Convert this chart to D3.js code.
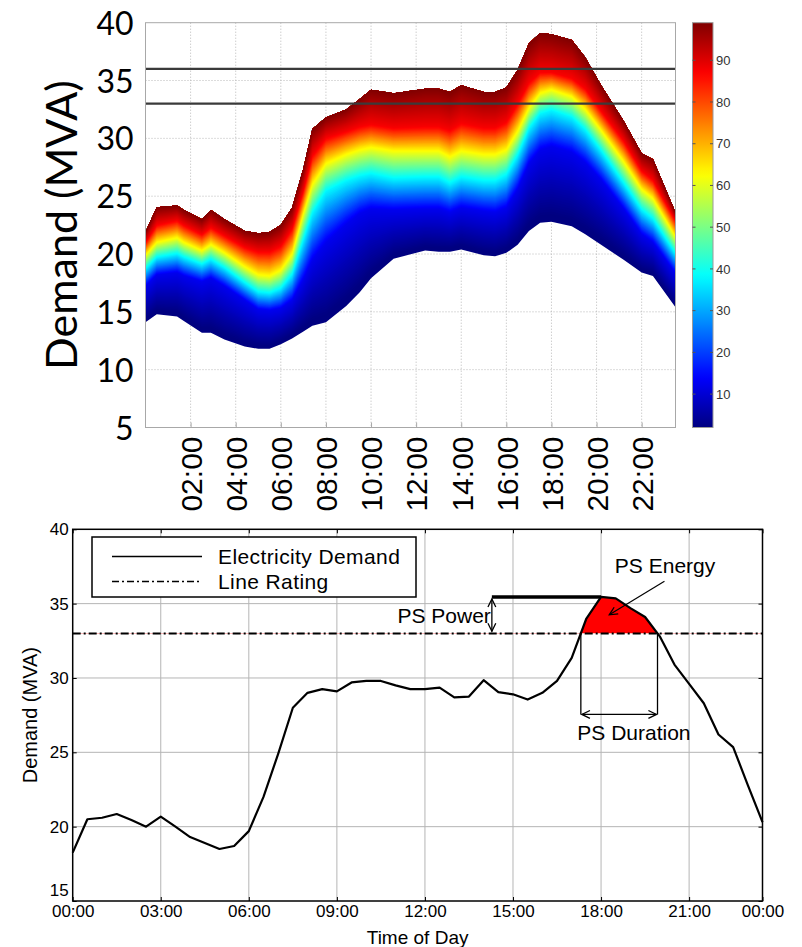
<!DOCTYPE html>
<html><head><meta charset="utf-8">
<script src="https://cdn.jsdelivr.net/npm/d3@7"></script>
<style>
body{margin:0;background:#fff;}
svg{display:block;}
</style></head><body>
<svg id="chart" width="802" height="947"></svg>
<script>
// ---------------- TOP CHART DATA (demand percentiles) ----------------
const fanHours = [0, 0.5, 1.4, 1.7, 2.5, 2.9, 3.5, 4.4, 5.0, 5.5, 6.0, 6.5, 7.0, 7.4, 8.0, 8.9, 9.5, 10.0, 11.0, 12.4, 13.0, 13.5, 14.0, 15.0, 15.5, 16.0, 16.5, 17.0, 17.5, 18.0, 18.9, 19.5, 20.2, 21.2, 22.0, 22.5, 23.5];
const p1  = [14.1, 14.8, 14.6, 14.2, 13.2, 13.2, 12.6, 12.0, 11.8, 11.8, 12.2, 12.7, 13.3, 13.8, 14.1, 15.5, 16.7, 17.9, 19.6, 20.3, 20.2, 20.2, 20.4, 19.9, 19.8, 20.1, 20.8, 22.0, 22.7, 22.8, 22.4, 21.7, 20.8, 19.5, 18.4, 18.1, 15.4];
const p12 = [17.2, 18.2, 18.4, 18.1, 17.6, 17.9, 17.2, 16.0, 15.2, 15.1, 15.3, 16.0, 17.8, 19.5, 21.0, 22.6, 23.5, 23.9, 23.8, 23.9, 23.9, 23.6, 24.0, 23.7, 23.6, 24.0, 25.6, 27.8, 29.0, 29.3, 28.8, 27.9, 26.4, 23.9, 21.7, 21.0, 18.3];
const p37 = [18.7, 19.7, 20.0, 19.7, 19.1, 19.5, 18.8, 17.5, 16.7, 16.6, 17.0, 18.2, 21.2, 23.5, 25.4, 26.3, 26.7, 26.9, 26.5, 26.6, 26.6, 26.1, 26.6, 26.3, 26.3, 26.8, 28.5, 30.8, 32.1, 32.4, 31.8, 30.7, 28.9, 26.1, 23.8, 23.0, 20.0];
const p62 = [19.9, 21.0, 21.4, 21.0, 20.3, 20.8, 20.1, 18.9, 18.2, 18.1, 18.6, 20.0, 23.5, 26.0, 27.8, 28.6, 29.0, 29.2, 28.9, 28.9, 28.9, 28.4, 28.9, 28.6, 28.6, 29.0, 30.6, 32.6, 33.9, 34.2, 33.6, 32.5, 30.7, 28.0, 25.6, 24.8, 21.5];
const p87 = [21.0, 22.5, 22.9, 22.5, 21.7, 22.3, 21.6, 20.6, 20.2, 20.2, 20.7, 22.2, 25.5, 28.5, 30.0, 30.6, 31.0, 31.2, 30.9, 31.0, 31.0, 30.7, 31.3, 30.9, 30.9, 31.4, 33.0, 34.8, 35.7, 35.7, 35.2, 34.3, 32.4, 29.8, 27.2, 26.4, 22.9];
const p99 = [21.9, 24.05, 24.2, 23.8, 23.0, 23.8, 23.0, 22.0, 21.8, 21.9, 22.5, 24.0, 27.4, 30.8, 31.8, 32.5, 33.4, 34.2, 33.9, 34.3, 34.3, 34.0, 34.6, 34.0, 34.0, 34.4, 35.9, 38.2, 39.1, 39.0, 38.5, 37.0, 34.6, 31.5, 28.7, 28.2, 23.6];
const percentileLevels = [1, 12.5, 37.5, 62.5, 87.5, 99];
const ratingLevels = [36, 33];
const topYTicks = [5, 10, 15, 20, 25, 30, 35, 40];
const topXTicks = [2, 4, 6, 8, 10, 12, 14, 16, 18, 20, 22];
const topXTickLabels = ["02:00", "04:00", "06:00", "08:00", "10:00", "12:00", "14:00", "16:00", "18:00", "20:00", "22:00"];
const colorbarDomain = [2, 99];
const colorbarTicks = [10, 20, 30, 40, 50, 60, 70, 80, 90];

// ---------------- BOTTOM CHART DATA (one day) ----------------
const demandHours = [0, 0.5, 1, 1.5, 2, 2.5, 3, 3.5, 4, 4.5, 5, 5.5, 6, 6.5, 7, 7.5, 8, 8.5, 9, 9.5, 10, 10.5, 11, 11.5, 12, 12.5, 13, 13.5, 14, 14.5, 15, 15.5, 16, 16.5, 17, 17.5, 18, 18.5, 19, 19.5, 20, 20.5, 21, 21.5, 22, 22.5, 23, 23.5];
const demand = [18.25, 20.5, 20.6, 20.85, 20.45, 20.0, 20.67, 20.0, 19.3, 18.9, 18.5, 18.7,
                19.7, 22.0, 24.9, 28.0, 29.0, 29.25, 29.1, 29.7, 29.8, 29.8, 29.5, 29.25,
                29.25, 29.35, 28.7, 28.75, 29.85, 29.05, 28.9, 28.55, 29.0, 29.8, 31.35, 34.0,
                35.45, 35.35, 34.7, 34.1, 32.8, 30.9, 29.6, 28.3, 26.2, 25.35, 22.8, 20.3];
const lineRating = 33;
const psPowerStartHour = 14.28;
const psDurationLevel = 27.55;
const bottomYTicks = [15, 20, 25, 30, 35, 40];
const bottomXTicks = [0, 3, 6, 9, 12, 15, 18, 21, 23.5];
const bottomXTickLabels = ["00:00", "03:00", "06:00", "09:00", "12:00", "15:00", "18:00", "21:00", "00:00"];
const legendLabels = ["Electricity Demand", "Line Rating"];

// ---------------- helpers ----------------
const svg = d3.select("#chart");
const jet = t => {
  const c = v => Math.max(0, Math.min(1, v));
  return d3.rgb(255 * c(1.5 - Math.abs(4 * t - 3)), 255 * c(1.5 - Math.abs(4 * t - 2)), 255 * c(1.5 - Math.abs(4 * t - 1))).toString();
};
const cNorm = d3.scaleLinear().domain(colorbarDomain).range([0, 1]).clamp(true);
const fontArial = "'Liberation Sans', Arial, sans-serif";
const fontCal = "Lato, 'Open Sans', sans-serif";

// ================= TOP CHART =================
const xT = d3.scaleLinear().domain([0, 23.5]).range([145.5, 675.5]);
const yT = d3.scaleLinear().domain([5, 40]).range([427.5, 22.7]);
const gT = svg.append("g");

// dotted grid
gT.append("g").selectAll("line").data(topXTicks).join("line")
  .attr("x1", d => xT(d)).attr("x2", d => xT(d)).attr("y1", yT(40)).attr("y2", yT(5))
  .attr("stroke", "#b8b8b8").attr("stroke-width", 1).attr("stroke-dasharray", "1,2");
gT.append("g").selectAll("line").data(topYTicks.slice(1, -1)).join("line")
  .attr("x1", xT(0)).attr("x2", xT(23.5)).attr("y1", d => yT(d)).attr("y2", d => yT(d))
  .attr("stroke", "#b8b8b8").attr("stroke-width", 1).attr("stroke-dasharray", "1,2");

// fan: each level painted from its own contour up to the outer (99th) contour,
// lower levels first, so the stacked fills leave no seams
const quantiles = [p1, p12, p37, p62, p87, p99];
const outerQ = quantiles[quantiles.length - 1];
const fanG = gT.append("g");
const steps = 30;
for (let k = 0; k < quantiles.length - 1; k++) {
  const lo = quantiles[k], hi = quantiles[k + 1];
  const L0 = percentileLevels[k], L1 = percentileLevels[k + 1];
  for (let j = 0; j < steps; j++) {
    const a = j / steps;
    const lev = L0 + (L1 - L0) * (j + 0.5) / steps;
    const col = jet(cNorm(lev));
    const area = d3.area()
      .x((d, i) => xT(fanHours[i]))
      .y0((d, i) => yT(lo[i] + (hi[i] - lo[i]) * a))
      .y1((d, i) => yT(outerQ[i]));
    fanG.append("path").datum(fanHours).attr("d", area).attr("fill", col);
  }
}

// rating lines
gT.append("g").selectAll("line").data(ratingLevels).join("line")
  .attr("x1", xT(0)).attr("x2", xT(23.5)).attr("y1", d => yT(d)).attr("y2", d => yT(d))
  .attr("stroke", "#3a3a3a").attr("stroke-width", 2.2);

// frame
gT.append("rect").attr("x", xT(0)).attr("y", yT(40)).attr("width", xT(23.5) - xT(0)).attr("height", yT(5) - yT(40))
  .attr("fill", "none").attr("stroke", "#a8a8a8").attr("stroke-width", 1);

// x axis
const axT = gT.append("g").attr("transform", `translate(0,${yT(5)})`)
  .call(d3.axisBottom(xT).tickValues(topXTicks).tickFormat((d, i) => topXTickLabels[i]).tickSize(-5).tickSizeOuter(0));
axT.select(".domain").remove();
axT.selectAll(".tick line").attr("stroke", "#a8a8a8");
axT.selectAll(".tick text")
  .attr("transform", "rotate(-90)").attr("x", -9).attr("y", 0).attr("dy", "0.36em")
  .style("text-anchor", "end").style("font-family", fontArial).style("font-size", "30px").attr("fill", "#000");

// y axis
const ayT = gT.append("g").attr("transform", `translate(${xT(0)},0)`)
  .call(d3.axisLeft(yT).tickValues(topYTicks).tickSize(0).tickPadding(12));
ayT.select(".domain").remove();
ayT.selectAll(".tick text").style("font-family", fontCal).style("font-size", "32px").attr("fill", "#000").attr("dy", "0.36em");

gT.append("text").attr("transform", `translate(77,${(yT(40) + yT(5)) / 2}) rotate(-90)`)
  .attr("text-anchor", "middle").style("font-family", fontCal).style("font-size", "43px").text("Demand (MVA)");

// colorbar
const cbY = d3.scaleLinear().domain(colorbarDomain).range([427.5, 22.7]);
const defs = svg.append("defs");
const grad = defs.append("linearGradient").attr("id", "jetGrad").attr("x1", 0).attr("y1", 1).attr("x2", 0).attr("y2", 0);
d3.range(0, 1.0001, 0.02).forEach(t => grad.append("stop").attr("offset", t).attr("stop-color", jet(t)));
const cbX0 = 692.5, cbX1 = 713;
svg.append("rect").attr("x", cbX0).attr("y", cbY(colorbarDomain[1])).attr("width", cbX1 - cbX0)
  .attr("height", cbY(colorbarDomain[0]) - cbY(colorbarDomain[1])).attr("fill", "url(#jetGrad)")
  .attr("stroke", "#9a9a9a").attr("stroke-width", 1);
const cbG = svg.append("g");
cbG.selectAll("line.l").data(colorbarTicks).join("line").attr("class", "l")
  .attr("x1", cbX0).attr("x2", cbX0 + 3).attr("y1", d => cbY(d)).attr("y2", d => cbY(d)).attr("stroke", "#555");
cbG.selectAll("line.r").data(colorbarTicks).join("line").attr("class", "r")
  .attr("x1", cbX1 - 3).attr("x2", cbX1).attr("y1", d => cbY(d)).attr("y2", d => cbY(d)).attr("stroke", "#555");
cbG.selectAll("text").data(colorbarTicks).join("text")
  .attr("x", cbX1 + 3).attr("y", d => cbY(d)).attr("dy", "0.36em")
  .style("font-family", fontArial).style("font-size", "13px").attr("fill", "#333").text(d => d);

// ================= BOTTOM CHART =================
const xB = d3.scaleLinear().domain([0, 23.5]).range([72.7, 762.5]);
const yB = d3.scaleLinear().domain([15, 40]).range([901, 529.3]);
const gB = svg.append("g");

// grid
gB.append("g").selectAll("line").data(bottomXTicks.slice(1, -1)).join("line")
  .attr("x1", d => xB(d)).attr("x2", d => xB(d)).attr("y1", yB(40)).attr("y2", yB(15))
  .attr("stroke", "#b5b5b5").attr("stroke-width", 1);
gB.append("g").selectAll("line").data(bottomYTicks.slice(1, -1)).join("line")
  .attr("x1", xB(0)).attr("x2", xB(23.5)).attr("y1", d => yB(d)).attr("y2", d => yB(d))
  .attr("stroke", "#b5b5b5").attr("stroke-width", 1);

// red energy area (clip above rating)
defs.append("clipPath").attr("id", "aboveRating").append("rect")
  .attr("x", xB(0)).attr("y", yB(40)).attr("width", xB(23.5) - xB(0)).attr("height", yB(lineRating) - yB(40));
gB.append("path").datum(demand)
  .attr("d", d3.area().x((d, i) => xB(demandHours[i])).y0(yB(lineRating)).y1(d => yB(d)))
  .attr("fill", "#ff0000").attr("clip-path", "url(#aboveRating)");

// demand line
gB.append("path").datum(demand)
  .attr("d", d3.line().x((d, i) => xB(demandHours[i])).y(d => yB(d)))
  .attr("fill", "none").attr("stroke", "#000").attr("stroke-width", 2.2).attr("stroke-linejoin", "round");

// line rating
gB.append("line").attr("x1", xB(0)).attr("x2", xB(23.5)).attr("y1", yB(lineRating)).attr("y2", yB(lineRating))
  .attr("stroke", "#000").attr("stroke-width", 2).attr("stroke-dasharray", "8,3,2,3");

// crossings of the rating
const crossings = [];
for (let i = 1; i < demand.length; i++) {
  const a = demand[i - 1] - lineRating, b = demand[i] - lineRating;
  if (a * b < 0) {
    const t = a / (a - b);
    crossings.push(demandHours[i - 1] + t * (demandHours[i] - demandHours[i - 1]));
  }
}
const peakVal = d3.max(demand);
const peakHour = demandHours[demand.indexOf(peakVal)];

function arrowHead(g, x, y, ang) {
  const L = 9, w = 0.45;
  const p1x = x - L * Math.cos(ang - w), p1y = y - L * Math.sin(ang - w);
  const p2x = x - L * Math.cos(ang + w), p2y = y - L * Math.sin(ang + w);
  g.append("path").attr("d", `M${p1x},${p1y}L${x},${y}L${p2x},${p2y}`)
    .attr("fill", "none").attr("stroke", "#000").attr("stroke-width", 1.3);
}
const ann = gB.append("g");
const annFont = "21px";

// PS power: thick line and double arrow
ann.append("line").attr("x1", xB(psPowerStartHour)).attr("x2", xB(peakHour)).attr("y1", yB(peakVal)).attr("y2", yB(peakVal))
  .attr("stroke", "#000").attr("stroke-width", 3.5);
{
  const x = xB(psPowerStartHour), ya = yB(peakVal) + 2, yb = yB(lineRating) - 2;
  ann.append("line").attr("x1", x).attr("x2", x).attr("y1", ya).attr("y2", yb).attr("stroke", "#000").attr("stroke-width", 1.3);
  arrowHead(ann, x, ya, -Math.PI / 2);
  arrowHead(ann, x, yb, Math.PI / 2);
}
ann.append("text").attr("x", xB(psPowerStartHour) - 1).attr("y", (yB(peakVal) + yB(lineRating)) / 2 + 8)
  .attr("text-anchor", "end").style("font-family", fontArial).style("font-size", annFont).text("PS Power");

// PS duration
crossings.slice(0, 2).forEach(h => {
  ann.append("line").attr("x1", xB(h)).attr("x2", xB(h)).attr("y1", yB(lineRating)).attr("y2", yB(psDurationLevel))
    .attr("stroke", "#000").attr("stroke-width", 1.3);
});
if (crossings.length >= 2) {
  const xa = xB(crossings[0]) + 1, xb = xB(crossings[1]) - 1, y = yB(psDurationLevel);
  ann.append("line").attr("x1", xa).attr("x2", xb).attr("y1", y).attr("y2", y).attr("stroke", "#000").attr("stroke-width", 1.3);
  arrowHead(ann, xa, y, Math.PI);
  arrowHead(ann, xb, y, 0);
  ann.append("text").attr("x", xB(19.12)).attr("y", y + 26)
    .attr("text-anchor", "middle").style("font-family", fontArial).style("font-size", annFont).text("PS Duration");
}

// PS energy label + arrow
ann.append("text").attr("x", xB(20.18)).attr("y", yB(37.05))
  .attr("text-anchor", "middle").style("font-family", fontArial).style("font-size", annFont).text("PS Energy");
{
  const x1 = xB(20.16), y1 = yB(36.5), x2 = xB(18.28), y2 = yB(34.25);
  ann.append("line").attr("x1", x1).attr("y1", y1).attr("x2", x2).attr("y2", y2).attr("stroke", "#000").attr("stroke-width", 1.2);
  arrowHead(ann, x2, y2, Math.atan2(y2 - y1, x2 - x1));
}

// frame
gB.append("rect").attr("x", xB(0)).attr("y", yB(40)).attr("width", xB(23.5) - xB(0)).attr("height", yB(15) - yB(40))
  .attr("fill", "none").attr("stroke", "#000").attr("stroke-width", 1.5);

// axes
const axB = gB.append("g").attr("transform", `translate(0,${yB(15)})`)
  .call(d3.axisBottom(xB).tickValues(bottomXTicks).tickFormat((d, i) => bottomXTickLabels[i]).tickSize(-4).tickPadding(4).tickSizeOuter(0));
axB.select(".domain").remove();
axB.selectAll(".tick text").style("font-family", fontArial).style("font-size", "17px").attr("fill", "#000");
const atB = gB.append("g").attr("transform", `translate(0,${yB(40)})`)
  .call(d3.axisTop(xB).tickValues(bottomXTicks).tickFormat("").tickSize(-4).tickSizeOuter(0));
atB.select(".domain").remove();
const ayB = gB.append("g").attr("transform", `translate(${xB(0)},0)`)
  .call(d3.axisLeft(yB).tickValues(bottomYTicks).tickSize(-4).tickPadding(4).tickSizeOuter(0));
ayB.select(".domain").remove();
ayB.selectAll(".tick text").style("font-family", fontArial).style("font-size", "17px").attr("fill", "#000")
  .attr("dy", d => d === 15 ? "-0.3em" : "0.32em");
const arB = gB.append("g").attr("transform", `translate(${xB(23.5)},0)`)
  .call(d3.axisRight(yB).tickValues(bottomYTicks).tickFormat("").tickSize(-4).tickSizeOuter(0));
arB.select(".domain").remove();

gB.append("text").attr("x", (xB(0) + xB(23.5)) / 2).attr("y", 944).attr("text-anchor", "middle")
  .style("font-family", fontArial).style("font-size", "19px").text("Time of Day");
gB.append("text").attr("transform", `translate(37,${(yB(15) + yB(40)) / 2}) rotate(-90)`).attr("text-anchor", "middle")
  .style("font-family", fontArial).style("font-size", "20px").text("Demand (MVA)");

// legend
const lg = gB.append("g").attr("transform", "translate(92,537)");
lg.append("rect").attr("width", 324).attr("height", 60).attr("fill", "#fff").attr("stroke", "#000").attr("stroke-width", 1.5);
lg.append("line").attr("x1", 20).attr("x2", 110).attr("y1", 19.5).attr("y2", 19.5).attr("stroke", "#000").attr("stroke-width", 1.3);
lg.append("line").attr("x1", 20).attr("x2", 110).attr("y1", 44.5).attr("y2", 44.5).attr("stroke", "#000").attr("stroke-width", 1.3).attr("stroke-dasharray", "7,3,2,3");
lg.selectAll("text").data(legendLabels).join("text")
  .attr("x", 126).attr("y", (d, i) => 27 + i * 25)
  .style("font-family", fontArial).style("font-size", "21px").style("letter-spacing", "0.4px").text(d => d);
</script>
</body></html>
